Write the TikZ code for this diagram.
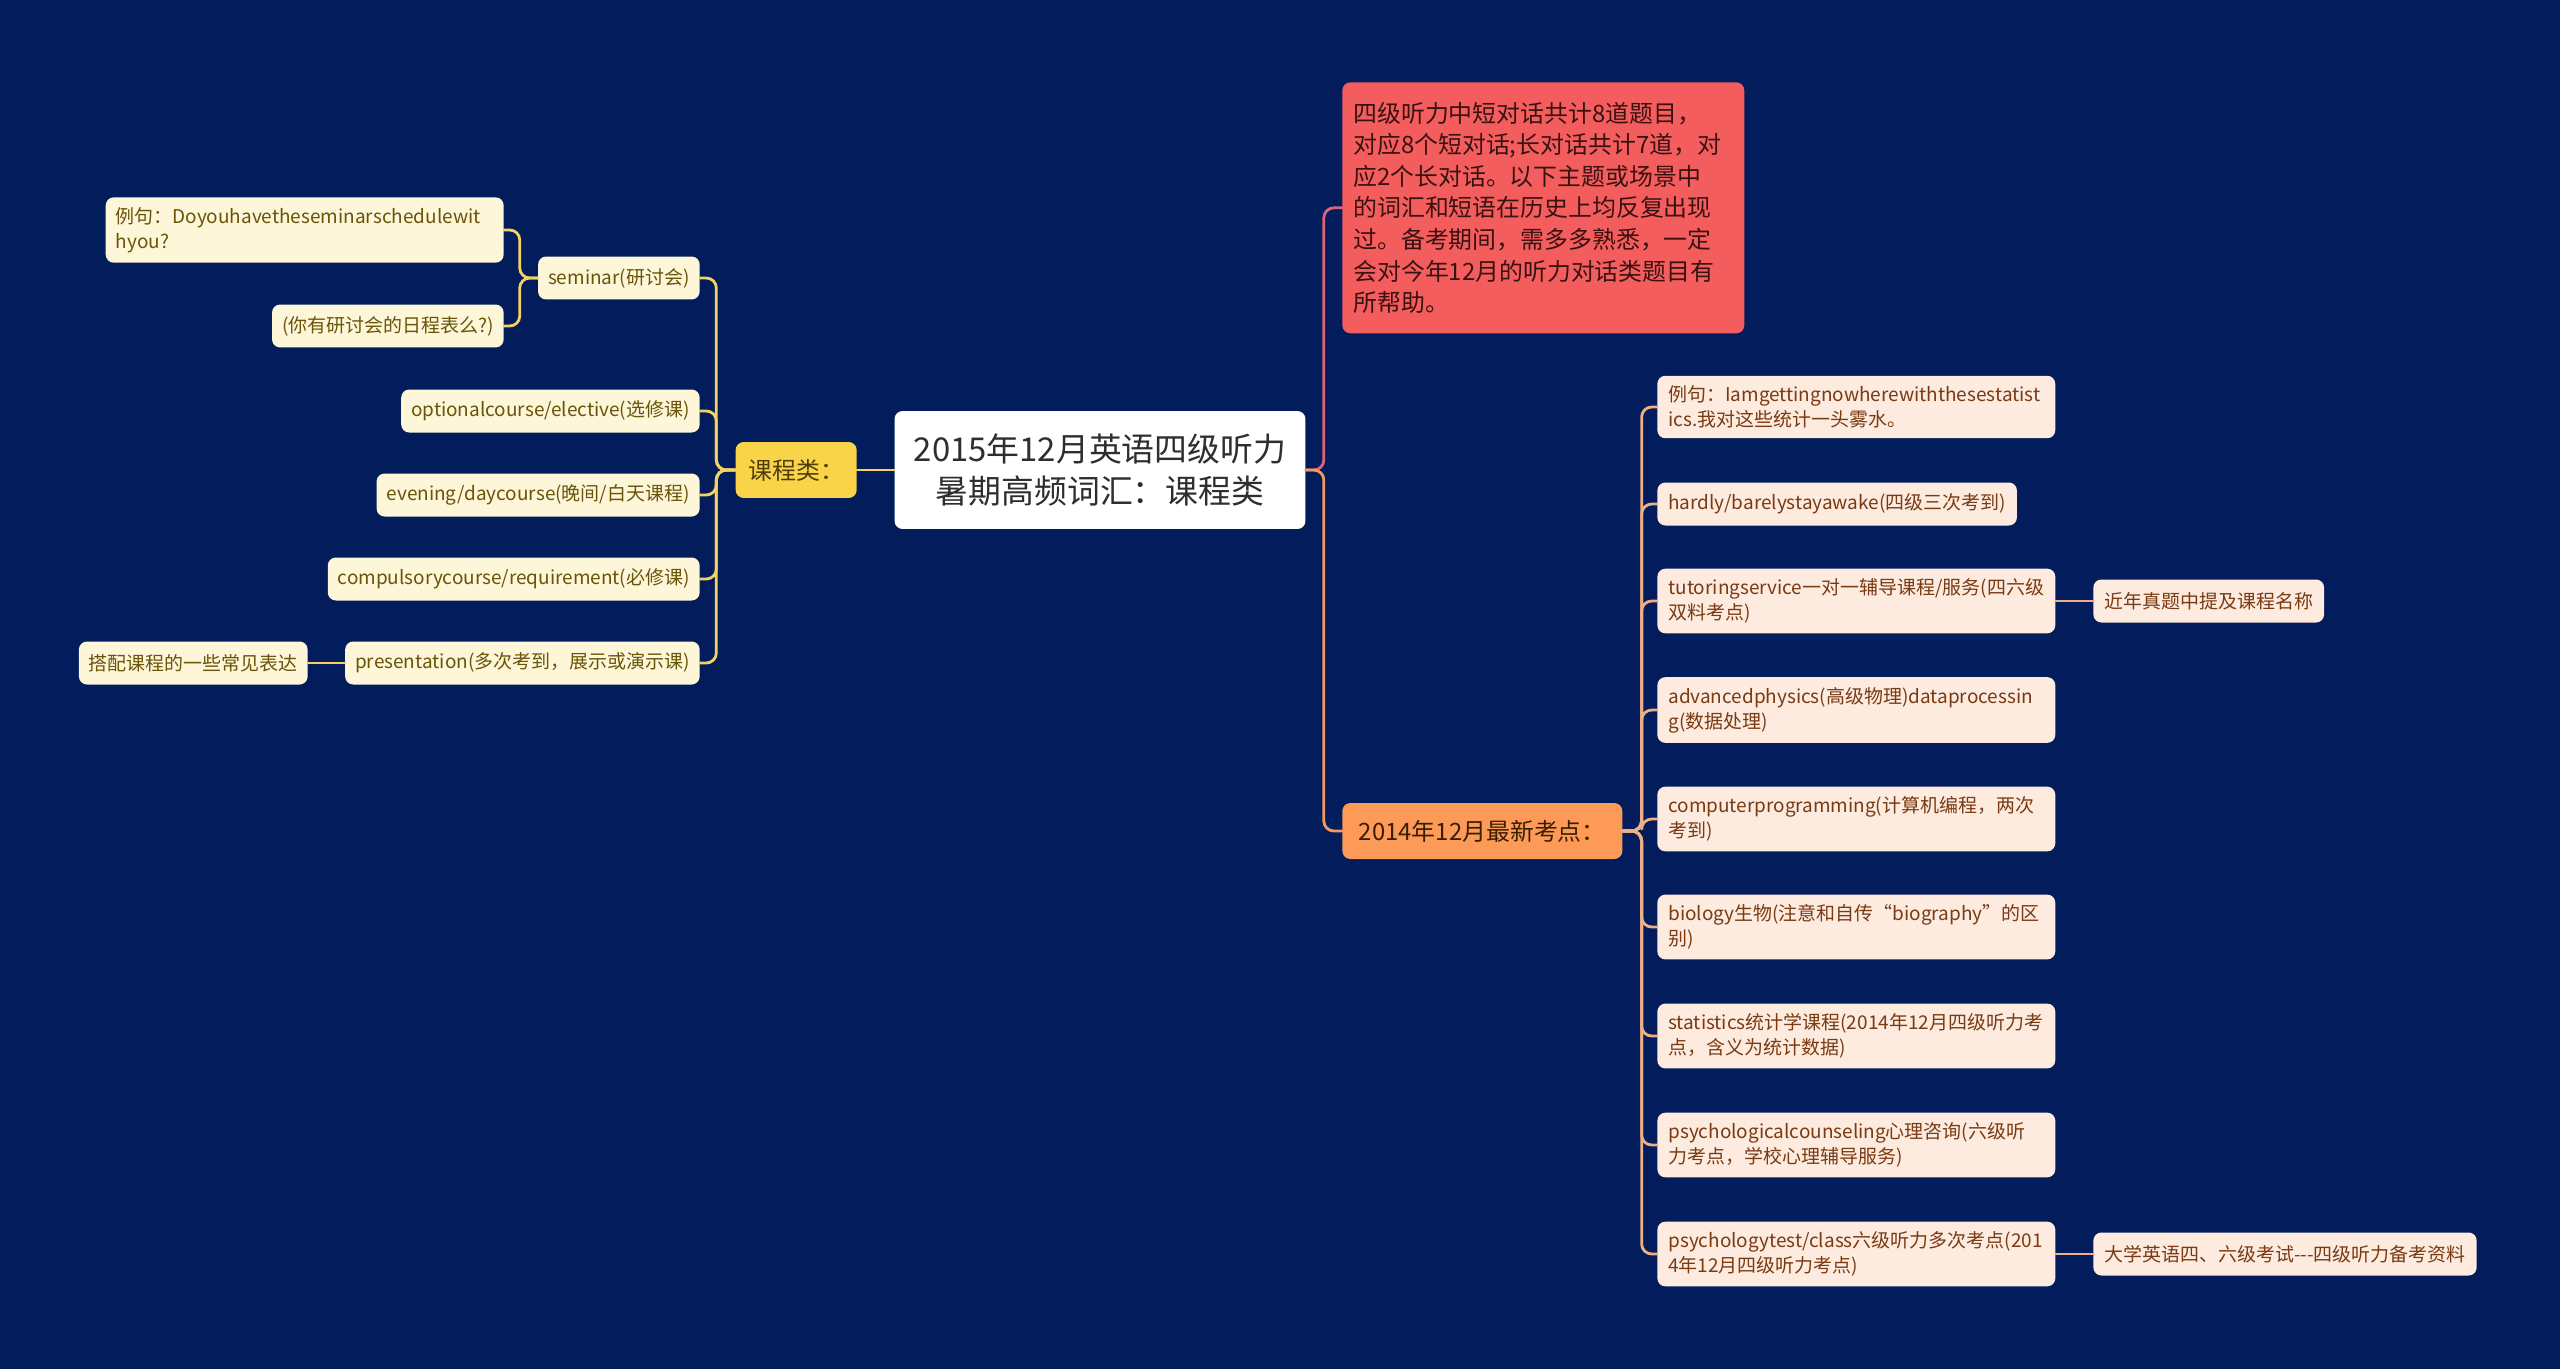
\documentclass[tikz,border=0pt]{standalone}
\usepackage{fontspec}
\setmainfont{Noto Sans CJK SC}
\usetikzlibrary{positioning}
\definecolor{MapNavy}{HTML}{031C5B}
\definecolor{RootInk}{HTML}{2E2E2E}
\definecolor{CatYellow}{HTML}{F9D448}
\definecolor{CatYellowInk}{HTML}{4F3E0C}
\definecolor{LeafCream}{HTML}{FDF6D9}
\definecolor{LeafOlive}{HTML}{6A5408}
\definecolor{LineYellow}{HTML}{F3D261}
\definecolor{NoteRed}{HTML}{F45D5D}
\definecolor{NoteInk}{HTML}{3A1111}
\definecolor{LinePink}{HTML}{DE6379}
\definecolor{CatOrange}{HTML}{FD9A57}
\definecolor{CatOrangeInk}{HTML}{3A1E02}
\definecolor{LineOrange}{HTML}{F29A5E}
\definecolor{LeafPeach}{HTML}{FDEBDF}
\definecolor{LeafBrown}{HTML}{7A3A12}
\definecolor{LinePeach}{HTML}{EFAE85}

\begin{document}
\begin{tikzpicture}[x=0.02cm,y=-0.02cm,line cap=round,line join=round,
  box/.style={rounded corners=0.16cm,inner xsep=0.22cm,inner ysep=0.2cm},
  rootbox/.style={box,fill=white,text=RootInk,align=center,minimum width=8.22cm,minimum height=2.36cm,
    font=\fontsize{18.7}{23.8}\selectfont},
  catL/.style={box,fill=CatYellow,text=CatYellowInk,minimum width=2.42cm,minimum height=1.12cm,
    font=\fontsize{13.6}{18}\selectfont},
  catR/.style={box,fill=CatOrange,text=CatOrangeInk,minimum width=5.6cm,minimum height=1.12cm,
    font=\fontsize{13.6}{18}\selectfont},
  notebox/.style={box,fill=NoteRed,text=NoteInk,text width=7.6cm,align=left,minimum height=5.02cm,
    font=\fontsize{13.6}{18}\selectfont},
  leafL/.style={box,fill=LeafCream,text=LeafOlive,minimum height=0.86cm,inner xsep=0.2cm,
    font=\fontsize{10.8}{14.2}\selectfont},
  leafR/.style={box,fill=LeafPeach,text=LeafBrown,minimum height=0.86cm,
    font=\fontsize{10.8}{14.2}\selectfont},
  wide/.style={text width=7.52cm,align=left},
  yline/.style={LineYellow,line width=1.6pt,rounded corners=0.2cm},
  pline/.style={LinePink,line width=1.6pt,rounded corners=0.2cm},
  oline/.style={LineOrange,line width=1.6pt,rounded corners=0.2cm},
  rline/.style={LinePeach,line width=1.6pt,rounded corners=0.2cm}]
  \fill[MapNavy] (0,0) rectangle (2560,1369);
  % centre and the two first-level branches
  \node[rootbox] (root) at (1100,470) {2015年12月英语四级听力\\暑期高频词汇：课程类};
  \node[catL,anchor=east] (kcl) at (857,470) {课程类：};
  \node[notebox,anchor=north west] (note) at (1342,82) {四级听力中短对话共计8道题目，\\对应8个短对话;长对话共计7道，对\\应2个长对话。以下主题或场景中\\的词汇和短语在历史上均反复出现\\过。备考期间，需多多熟悉，一定\\会对今年12月的听力对话类题目有\\所帮助。};
  \node[catR,anchor=west] (kd) at (1342,831) {2014年12月最新考点：};
  % left leaves
  \node[leafL,anchor=east] (sem) at (700,278) {seminar(研讨会)};
  \node[leafL,anchor=east,text width=7.56cm,align=left] (semex) at (504,230) {例句：Doyouhavetheseminarschedulewit\\hyou?};
  \node[leafL,anchor=east] (semcn) at (504,326) {(你有研讨会的日程表么?)};
  \node[leafL,anchor=east] (opt) at (700,411) {optionalcourse/elective(选修课)};
  \node[leafL,anchor=east] (eve) at (700,495) {evening/daycourse(晚间/白天课程)};
  \node[leafL,anchor=east] (comp) at (700,579) {compulsorycourse/requirement(必修课)};
  \node[leafL,anchor=east] (pres) at (700,663) {presentation(多次考到，展示或演示课)};
  \node[leafL,anchor=east] (dapei) at (308,663) {搭配课程的一些常见表达};
  % right leaves
  \node[leafR,wide,anchor=west] (stex) at (1657,407) {例句：Iamgettingnowherewiththesestatist\\ics.我对这些统计一头雾水。};
  \node[leafR,anchor=west] (hard) at (1657,504) {hardly/barelystayawake(四级三次考到)};
  \node[leafR,wide,anchor=west] (tut) at (1657,601) {tutoringservice一对一辅导课程/服务(四六级\\双料考点)};
  \node[leafR,wide,anchor=west] (adv) at (1657,710) {advancedphysics(高级物理)dataprocessin\\g(数据处理)};
  \node[leafR,wide,anchor=west] (prog) at (1657,819) {computerprogramming(计算机编程，两次\\考到)};
  \node[leafR,wide,anchor=west] (bio) at (1657,927) {biology生物(注意和自传“biography”的区\\别)};
  \node[leafR,wide,anchor=west] (stat) at (1657,1036) {statistics统计学课程(2014年12月四级听力考\\点，含义为统计数据)};
  \node[leafR,wide,anchor=west] (psyc) at (1657,1145) {psychologicalcounseling心理咨询(六级听\\力考点，学校心理辅导服务)};
  \node[leafR,wide,anchor=west] (psyt) at (1657,1254) {psychologytest/class六级听力多次考点(201\\4年12月四级听力考点)};
  \node[leafR,anchor=west] (near) at (2093,601) {近年真题中提及课程名称};
  \node[leafR,anchor=west] (daxue) at (2093,1254) {大学英语四、六级考试-{}-{}-四级听力备考资料};
  % connectors
  \draw[yline] (root.west) -- (kcl.east);
  \foreach \c in {sem,opt,eve,comp,pres}{\draw[yline] (kcl.west) -- ++(-19,0) |- (\c.east);}
  \foreach \c in {semex,semcn}{\draw[yline] (sem.west) -- ++(-18,0) |- (\c.east);}
  \draw[yline] (pres.west) -- (dapei.east);
  \draw[pline] (root.east) -- ++(18,0) |- (note.west);
  \draw[oline] (root.east) -- ++(18,0) |- (kd.west);
  \foreach \c in {stex,hard,tut,adv,prog,bio,stat,psyc,psyt}{\draw[rline] (kd.east) -- ++(19,0) |- (\c.west);}
  \draw[rline] (tut.east) -- (near.west);
  \draw[rline] (psyt.east) -- (daxue.west);
\end{tikzpicture}
\end{document}
